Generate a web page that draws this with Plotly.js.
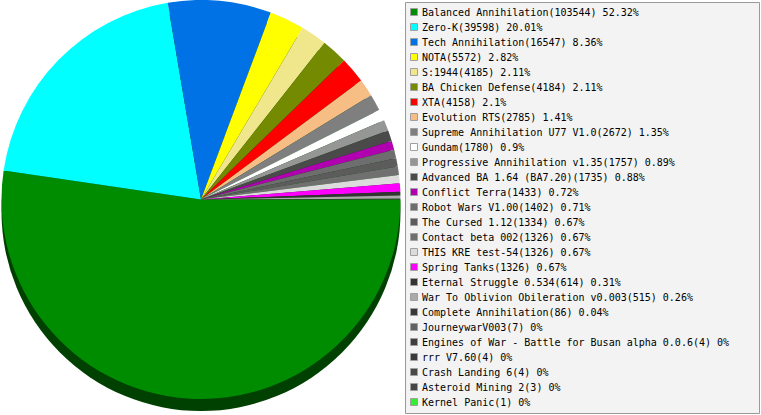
<!DOCTYPE html>
<html>
<head>
<meta charset="utf-8">
<script src="https://cdn.plot.ly/plotly-3.0.1.min.js"></script>
<style>html,body{margin:0;padding:0;background:#fff;}#chart{width:761px;height:415px;}</style>
</head>
<body>
<div id="chart"></div>
<script>
const labels = [
  "Balanced Annihilation", "Zero-K", "Tech Annihilation", "NOTA", "S:1944",
  "BA Chicken Defense", "XTA", "Evolution RTS", "Supreme Annihilation U77 V1.0",
  "Gundam", "Progressive Annihilation v1.35", "Advanced BA 1.64 (BA7.20)",
  "Conflict Terra", "Robot Wars V1.00", "The Cursed 1.12", "Contact beta 002",
  "THIS KRE test-54", "Spring Tanks", "Eternal Struggle 0.534",
  "War To Oblivion Obileration v0.003", "Complete Annihilation", "JourneywarV003",
  "Engines of War - Battle for Busan alpha 0.0.6", "rrr V7.60", "Crash Landing 6",
  "Asteroid Mining 2", "Kernel Panic"
];
const values = [
  103544, 39598, 16547, 5572, 4185,
  4184, 4158, 2785, 2672,
  1780, 1757, 1735,
  1433, 1402, 1334, 1326,
  1326, 1326, 614,
  515, 86, 7,
  4, 4, 4,
  3, 1
];
const colors = [
  "#008c00", "#00ffff", "#0072e6", "#ffff00", "#f0e68c",
  "#748a00", "#ff0000", "#f6be84", "#7f7f7f",
  "#ffffff", "#969696", "#4a4a4a",
  "#b000b0", "#6e6e6e", "#5c5c5c", "#707070",
  "#dcdcdc", "#ff00ff", "#333333",
  "#aaaaaa", "#383838", "#606060",
  "#3e3e3e", "#3a3a3a", "#484848",
  "#454545", "#33ee33"
];

const W = 761, H = 415;
const px = v => v / W;
const py = v => 1 - v / H;

const total = values.reduce((a, b) => a + b, 0);
const pctText = v => String(Math.round(v / total * 10000) / 100);

// pie geometry (pixels)
const cx = 201, cy = 199.5, r = 199.5, depth = 12;

const shapes = [
  // 3D edge under the pie
  {type: "circle", xref: "paper", yref: "paper", layer: "below",
   x0: px(cx - r), x1: px(cx + r), y0: py(cy + r + depth), y1: py(cy - r + depth),
   fillcolor: "#004000", line: {width: 0}},
  // legend box
  {type: "rect", xref: "paper", yref: "paper", layer: "below",
   x0: px(405.5), x1: px(759.5), y0: py(413.5), y1: py(2.5),
   fillcolor: "#f3f3f3", line: {color: "#9a9a9a", width: 1}}
];
const annotations = [];
const rowTop = 12, rowGap = 15;
labels.forEach((lab, i) => {
  const yc = rowTop + i * rowGap;
  shapes.push({type: "rect", xref: "paper", yref: "paper", layer: "above",
    x0: px(410.5), x1: px(417.5), y0: py(yc + 3.5), y1: py(yc - 3.5),
    fillcolor: colors[i], line: {color: "#a0a0a0", width: 1}});
  annotations.push({xref: "paper", yref: "paper", x: px(420), y: py(yc),
    xanchor: "left", yanchor: "middle", showarrow: false,
    text: lab + "(" + values[i] + ") " + pctText(values[i]) + "%",
    font: {family: "DejaVu Sans Mono", size: 10, color: "#000000"}});
});

const data = [{
  type: "pie",
  labels: labels,
  values: values,
  sort: false,
  direction: "clockwise",
  rotation: 90,
  textinfo: "none",
  hoverinfo: "none",
  showlegend: false,
  marker: {colors: colors, line: {width: 0}},
  domain: {x: [px(cx - r), px(cx + r)], y: [py(cy + r), py(cy - r)]}
}];

const layout = {
  width: W, height: H,
  margin: {l: 0, r: 0, t: 0, b: 0, pad: 0},
  paper_bgcolor: "#ffffff",
  plot_bgcolor: "#ffffff",
  showlegend: false,
  shapes: shapes,
  annotations: annotations
};

Plotly.newPlot("chart", data, layout, {displayModeBar: false, staticPlot: true});
</script>
</body>
</html>
